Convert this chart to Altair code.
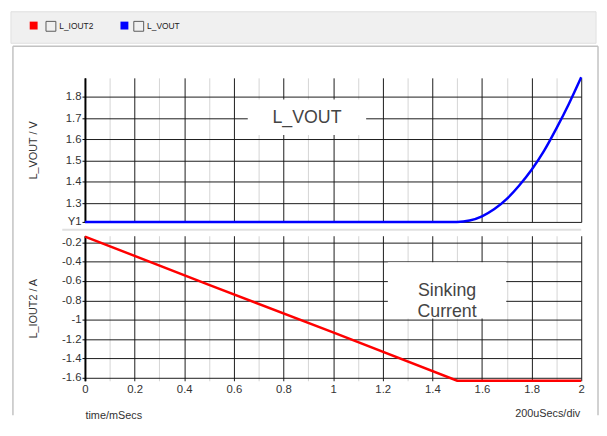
import altair as alt
import pandas as pd

# ---------------- data ----------------
series = ["L_IOUT2", "L_VOUT"]
series_keys = ["iout2", "vout"]
series_colors = ["#ff0000", "#0000ff"]

time_vout = [0.0, 1.5, 1.55, 1.6, 1.65, 1.7, 1.75, 1.8, 1.85, 1.9, 1.95, 2.0]
vout = [1.2115, 1.2115, 1.218, 1.238, 1.272, 1.32, 1.383, 1.457, 1.546, 1.652, 1.767, 1.893]

time_iout = [0.0, 0.5, 1.0, 1.5, 2.0]
iout = [-0.14, -0.64, -1.13, -1.63, -1.63]

x_ticks = [0.0, 0.1, 0.2, 0.3, 0.4, 0.5, 0.6, 0.7, 0.8, 0.9, 1.0,
           1.1, 1.2, 1.3, 1.4, 1.5, 1.6, 1.7, 1.8, 1.9, 2.0]
vout_ticks = [1.2115, 1.3, 1.4, 1.5, 1.6, 1.7, 1.8]
iout_ticks = [-0.2, -0.4, -0.6, -0.8, -1.0, -1.2, -1.4, -1.6]

x_domain = [0.0, 2.0]
vout_domain = [1.2115, 1.89]
iout_domain = [-1.6306, -0.1317]

vout_label = ["L_VOUT"]
iout_label = ["Sinking", "Current"]
x_title = "time/mSecs"
div_label = "200uSecs/div"
vout_title = "L_VOUT / V"
iout_title = "L_IOUT2 / A"

# ---------------- tables ----------------
df_vout = pd.DataFrame({"time": time_vout, "value": vout})
df_iout = pd.DataFrame({"time": time_iout, "value": iout})
df_leg = pd.DataFrame({"key": series_keys, "series": series})
one = pd.DataFrame({"k": [0]})

W = 503
H_TOP = 146
H_BOT = 147
FONT = "Liberation Sans"

grid_color = {"condition": {"test": "round(datum.value*10) % 2 == 0", "value": "#1a1a1a"},
              "value": "#d4d4d4"}

def y_axis(ticks, title, h):
    return alt.Axis(
        values=ticks, title=title, grid=True, gridColor="#1a1a1a", gridWidth=1,
        domain=True, domainColor="#000000", domainWidth=2,
        ticks=True, tickColor="#000000", tickSize=3,
        labelExpr="datum.value < 1.25 && datum.value > 1.2 ? 'Y1' : '' + datum.value",
        labelFont=FONT, labelFontSize=11.5, labelColor="#333333", labelPadding=1,
        labelFlush=False, labelOverlap=False,
        titleFont=FONT, titleFontSize=11, titleFontWeight="normal", titleColor="#333333",
        titleX=-52, titleY=h / 2, titleAngle=-90, titleBaseline="middle",
    )

# ---------------- top panel ----------------
header = alt.Chart(one).mark_rect(fill="#f0f0f0", stroke="#e0e0e0", strokeWidth=1).encode(
    x=alt.value(-75), x2=alt.value(518), y=alt.value(-67), y2=alt.value(-35))
border_top = alt.Chart(one).mark_rule(color="#c2c2c2", strokeWidth=1.5).encode(
    x=alt.value(-73), x2=alt.value(520), y=alt.value(-32))
border_left = alt.Chart(one).mark_rule(color="#c2c2c2", strokeWidth=1.5).encode(
    x=alt.value(-73), y=alt.value(-32), y2=alt.value(342))
border_right = alt.Chart(one).mark_rule(color="#c2c2c2", strokeWidth=1.5).encode(
    x=alt.value(520), y=alt.value(-32), y2=alt.value(342))
separator = alt.Chart(one).mark_rule(color="#e0e0e0", strokeWidth=2).encode(
    x=alt.value(-23), x2=alt.value(503), y=alt.value(154))

vout_line = alt.Chart(df_vout).mark_line(color=series_colors[1], strokeWidth=2.5,
                                         interpolate="monotone").encode(
    x=alt.X("time:Q", scale=alt.Scale(domain=x_domain, nice=False, zero=False),
            axis=alt.Axis(values=x_ticks, grid=True, gridColor=grid_color, labels=False,
                          ticks=False, domain=False, title=None)),
    y=alt.Y("value:Q", scale=alt.Scale(domain=vout_domain, nice=False, zero=False),
            axis=y_axis(vout_ticks, vout_title, H_TOP)),
)

vout_box = alt.Chart(one).mark_rect(fill="white").encode(
    x=alt.value(165), x2=alt.value(285), y=alt.value(22), y2=alt.value(58))
vout_text = alt.Chart(pd.DataFrame({"t": vout_label})).mark_text(
    font=FONT, fontSize=18, color="#444444", align="center", baseline="middle").encode(
    x=alt.value(225), y=alt.value(41), text="t:N")

leg_color = alt.Chart(df_leg).mark_square(opacity=1, size=64).encode(
    x=alt.value(0), y=alt.value(0),
    color=alt.Color("key:N", scale=alt.Scale(domain=series_keys, range=series_colors),
                    legend=alt.Legend(orient="none", legendX=-56, legendY=-57,
                                      direction="horizontal", title=None,
                                      symbolType="square", symbolSize=64,
                                      symbolStrokeWidth=0, labelExpr="''",
                                      labelOffset=0, columnPadding=84, padding=0,
                                      labelFontSize=8)),
).transform_filter("false")

leg_box = alt.Chart(df_leg).mark_point(filled=False, opacity=1, size=100,
                                       shape="square", strokeWidth=1).encode(
    x=alt.value(0), y=alt.value(0),
    stroke=alt.Stroke("series:N",
                      scale=alt.Scale(domain=series, range=["#5a5a5a", "#5a5a5a"]),
                      legend=alt.Legend(orient="none", legendX=-40, legendY=-58,
                                        direction="horizontal", title=None,
                                        symbolType="square", symbolSize=100,
                                        symbolFillColor="#ffffff",
                                        symbolStrokeWidth=1,
                                        labelFont=FONT, labelFontSize=8.5,
                                        labelColor="#222222",
                                        labelOffset=3, columnPadding=38, padding=0)),
).transform_filter("false")

top = alt.layer(header, border_top, border_left, border_right, separator,
                vout_line, vout_box, vout_text, leg_color, leg_box).properties(
    width=W, height=H_TOP)

# ---------------- bottom panel ----------------
iout_line = alt.Chart(df_iout).mark_line(color=series_colors[0], strokeWidth=2.5).encode(
    x=alt.X("time:Q", scale=alt.Scale(domain=x_domain, nice=False, zero=False),
            axis=alt.Axis(values=x_ticks, grid=True, gridColor=grid_color,
                          format="~g",
                          labelExpr="round(datum.value*10) % 2 == 0 ? datum.label : ''",
                          labelFont=FONT, labelFontSize=11.5, labelColor="#333333",
                          labelPadding=3, labelFlush=False, labelOverlap=False,
                          ticks=False, domain=False, title=x_title,
                          titleFont=FONT, titleFontSize=11, titleFontWeight="normal",
                          titleColor="#333333", titleX=0, titleY=35, titleAlign="left",
                          titleAnchor="start", titleBaseline="middle")),
    y=alt.Y("value:Q", scale=alt.Scale(domain=iout_domain, nice=False, zero=False),
            axis=y_axis(iout_ticks, iout_title, H_BOT)),
)

iout_box = alt.Chart(one).mark_rect(fill="white").encode(
    x=alt.value(307), x2=alt.value(427), y=alt.value(27), y2=alt.value(84))
iout_text = alt.Chart(one).mark_text(
    text=iout_label, lineHeight=21, font=FONT, fontSize=18, color="#444444",
    align="center", baseline="middle").encode(x=alt.value(367), y=alt.value(56))
div_text = alt.Chart(one).mark_text(
    text=div_label, font=FONT, fontSize=11, color="#333333",
    align="right", baseline="middle").encode(x=alt.value(502), y=alt.value(181))

bottom = alt.layer(iout_line, iout_box, iout_text, div_text).properties(
    width=W, height=H_BOT)

chart = alt.vconcat(top, bottom, spacing=14, bounds="flush").properties(
    padding={"left": 2, "top": 0, "right": 0, "bottom": 0},
    background="white",
).configure_view(stroke=None)

chart.save("out.html", embed_options={"renderer": "svg", "actions": False})
